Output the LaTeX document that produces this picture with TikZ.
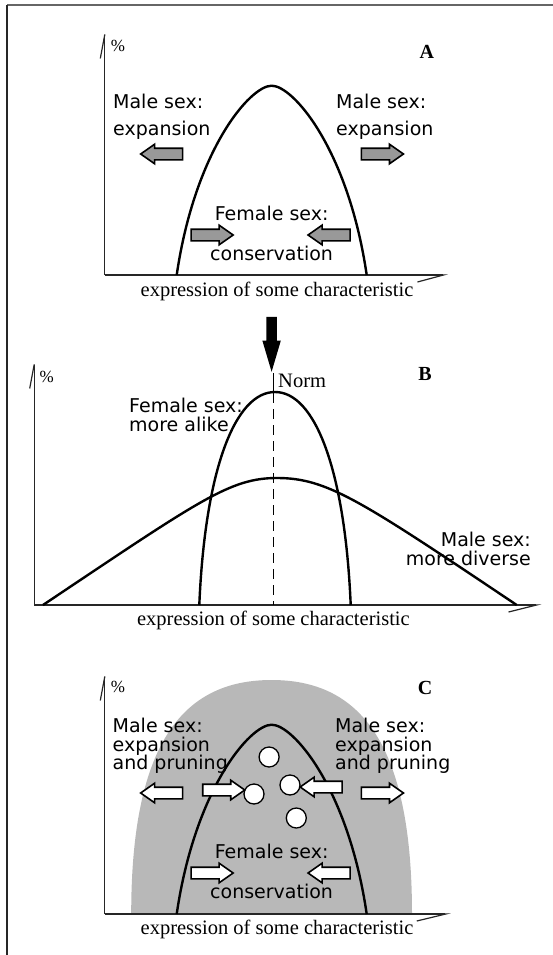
\documentclass[tikz,border=0pt]{standalone}
\usepackage{fontspec}
\setmainfont{Liberation Serif}
\newfontfamily\handfont{DejaVu Sans}
\usepackage{tikz}
\usetikzlibrary{arrows.meta, shapes.arrows}

\tikzset{
    curve/.style={line width=2.4pt, line join=round},
    axis/.style={line width=1.2pt, black!85},
    hand/.style={font=\handfont\fontsize{19}{19}\selectfont, inner sep=0pt},
    serif/.style={font=\fontsize{20.5}{20.5}\selectfont, inner sep=0pt},
    panel/.style={inner sep=0pt, font=\fontsize{20}{20}\selectfont\bfseries},
    blockarrow/.style={single arrow, draw, line width=1.6pt, minimum height=42pt,
        minimum width=18pt, inner sep=5pt, single arrow head extend=4pt,
        single arrow tip angle=70},
    pointleft/.style={blockarrow, shape border rotate=180},
}

\begin{document}
\begin{tikzpicture}[x=1pt, y=-1pt]
        \useasboundingbox (0,0) rectangle (553,955);
        % frame
        \draw[black!60, line width=2pt] (7,5) -- (553,5);
        \draw[black!85, line width=1.3pt] (7,5) -- (7,955);

        % A
        \draw[axis, -{Straight Barb[harpoon, length=24pt, width=9pt]}] (104.8,275) -- (104.8,28);
        \draw[axis, -{Straight Barb[harpoon, swap, length=26pt, width=14pt]}] (104.8,275) -- (448,275);
        \node[serif, font=\fontsize{17}{17}\selectfont] (pctA) at (118,46) {\%};
        \node[panel] (letA) at (426.8,52) {A};
        \draw[curve] (176.7,275) .. controls (195,150) and (250,85.7) .. (271.7,85.7)
            .. controls (293.4,85.7) and (348.4,150) .. (366.7,275);
        \node[hand, anchor=west, align=left, font=\handfont\fontsize{19}{26.7}\selectfont] (maleAl) at (113,117) {Male sex:\\expansion};
        \node[hand, anchor=west, align=left, font=\handfont\fontsize{19}{26.7}\selectfont] (maleAr) at (336,117) {Male sex:\\expansion};
        \node[hand] (femAt) at (271.6,213) {Female sex:};
        \node[hand] (femAb) at (271.6,253) {conservation};
        \node[pointleft, fill=black!40] (arrAl) at (165.8,154) {};
        \node[blockarrow, fill=black!40] (arrAr) at (378.3,154) {};
        \node[blockarrow, fill=black!40] (arrAfl) at (208,235) {};
        \node[pointleft, fill=black!40] (arrAfr) at (333.2,235) {};
        \node[serif] (labA) at (277,291) {expression of some characteristic};

        % A -> B
        \node[single arrow, fill=black, shape border rotate=270, minimum height=55pt,
            minimum width=18pt, inner sep=5pt, single arrow head extend=4pt,
            single arrow tip angle=33] (down) at (271.6,335.5) {};

        % B
        \draw[axis, -{Straight Barb[harpoon, length=24pt, width=9pt]}] (34.2,605) -- (34.2,358);
        \draw[axis, -{Straight Barb[harpoon, swap, length=28pt, width=14pt]}] (34.2,605) -- (541.4,605);
        \node[serif, font=\fontsize{17}{17}\selectfont] (pctB) at (46.8,377) {\%};
        \node[panel] (letB) at (425,374) {B};
        \draw[line width=1.2pt] (273.6,373) -- (273.6,393);
        \draw[line width=1.2pt, dash pattern=on 10pt off 6pt] (273.6,393) -- (273.6,605);
        \node[serif, anchor=west] (norm) at (278,381) {Norm};
        \draw[curve] (199.3,605) .. controls (205,470) and (235,392) .. (275,392)
            .. controls (315,392) and (345,470) .. (350.7,605);
        \draw[curve] (43,605) .. controls (200,500) and (230,478) .. (277,478)
            .. controls (327,478) and (360,500) .. (516.7,605);
        \node[hand, anchor=west, align=left] (femB) at (129,415) {Female sex:\\more alike};
        \node[hand, anchor=east, align=right, font=\handfont\fontsize{19}{18.5}\selectfont] (maleB) at (531,549) {Male sex:\\more diverse};
        \node[serif] (labB) at (273.4,620) {expression of some characteristic};

        % C
        \fill[black!28] (131.2,914) .. controls (131.2,740) and (185,680) .. (271.6,680)
            .. controls (358,680) and (412,740) .. (412,914) -- cycle;
        \draw[axis, -{Straight Barb[harpoon, length=24pt, width=9pt]}] (104.8,914) -- (104.8,670);
        \draw[axis, -{Straight Barb[harpoon, swap, length=29pt, width=14pt]}] (104.8,914) -- (450.8,914);
        \node[serif, font=\fontsize{17}{17}\selectfont] (pctC) at (118,687) {\%};
        \node[panel] (letC) at (425,688) {C};
        \draw[curve] (176.7,914) .. controls (195,789) and (250,724.7) .. (271.7,724.7)
            .. controls (293.4,724.7) and (348.4,789) .. (366.7,914);
        \foreach \x/\y in {269.1/757, 290/785, 254/794, 296.3/818}
            \filldraw[fill=white, line width=1.3pt] (\x,\y) circle (10pt);
        \node[hand, anchor=west, align=left, font=\handfont\fontsize{19}{18.7}\selectfont] (maleCl) at (112.5,746) {Male sex:\\expansion\\and pruning};
        \node[hand, anchor=west, align=left, font=\handfont\fontsize{19}{18.7}\selectfont] (maleCr) at (335,746) {Male sex:\\expansion\\and pruning};
        \node[pointleft, fill=white] (arrCl) at (165.8,793) {};
        \node[blockarrow, fill=white] (arrCil) at (219.6,790) {};
        \node[pointleft, fill=white] (arrCir) at (325.3,787) {};
        \node[blockarrow, fill=white] (arrCr) at (378.3,793) {};
        \node[hand] (femCt) at (271.6,851) {Female sex:};
        \node[hand] (femCb) at (271.6,891) {conservation};
        \node[blockarrow, fill=white] (arrCfl) at (208,873) {};
        \node[pointleft, fill=white] (arrCfr) at (333.2,873) {};
        \node[serif] (labC) at (277,929) {expression of some characteristic};
    \end{tikzpicture}
\end{document}
